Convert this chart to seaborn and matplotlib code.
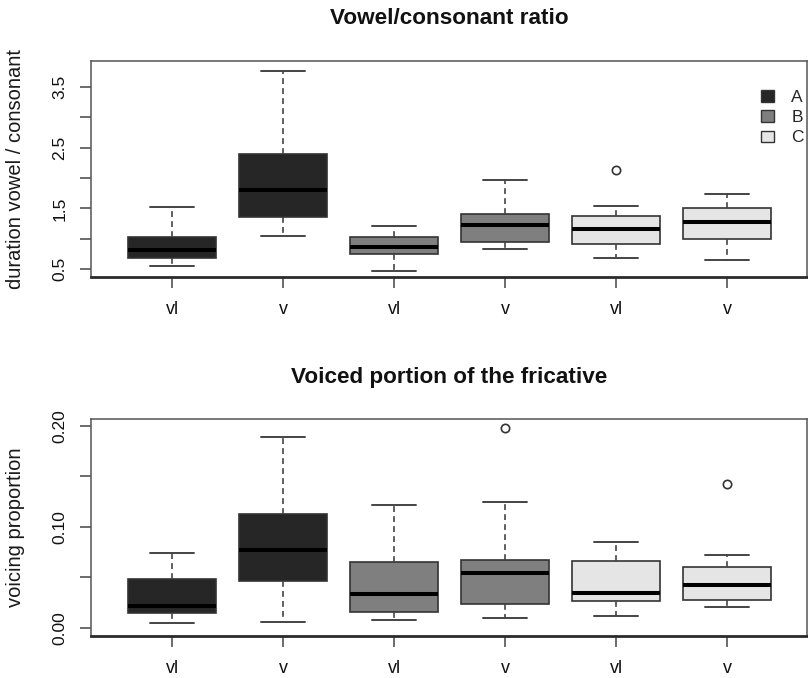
import numpy as np
import pandas as pd
import matplotlib
matplotlib.use("Agg")
import matplotlib.pyplot as plt
from matplotlib.patches import Patch
import seaborn as sns

# ---------------- data ----------------
groups = ["A", "A", "B", "B", "C", "C"]
tick_labels = ["vl", "v", "vl", "v", "vl", "v"]
group_colors = {"A": "#262626", "B": "#7f7f7f", "C": "#e5e5e5"}

# Vowel/consonant ratio: whisker low, Q1, median, Q3, whisker high, outliers
ratio_low = [0.55, 1.05, 0.47, 0.83, 0.69, 0.66]
ratio_q1 = [0.69, 1.36, 0.75, 0.95, 0.91, 0.99]
ratio_med = [0.82, 1.81, 0.87, 1.22, 1.17, 1.27]
ratio_q3 = [1.03, 2.39, 1.03, 1.41, 1.38, 1.50]
ratio_high = [1.53, 3.76, 1.21, 1.97, 1.54, 1.74]
ratio_out = [[], [], [], [], [2.13], []]

# Voiced portion of the fricative
voice_low = [0.005, 0.006, 0.008, 0.010, 0.012, 0.021]
voice_q1 = [0.015, 0.046, 0.016, 0.024, 0.026, 0.027]
voice_med = [0.022, 0.077, 0.033, 0.054, 0.034, 0.042]
voice_q3 = [0.048, 0.113, 0.065, 0.067, 0.066, 0.060]
voice_high = [0.074, 0.189, 0.122, 0.125, 0.085, 0.072]
voice_out = [[], [], [], [0.198], [], [0.142]]


def build_frame(low, q1, med, q3, high, outs):
    """Nine observations per box whose quartiles equal the read summary."""
    rows = []
    for i in range(len(low)):
        obs = [low[i], q1[i], q1[i], med[i], med[i], q3[i], q3[i], high[i]]
        obs += outs[i] if outs[i] else [high[i]]
        for v in obs:
            rows.append({"box": str(i), "group": groups[i], "value": v})
    return pd.DataFrame(rows)


df_ratio = build_frame(ratio_low, ratio_q1, ratio_med, ratio_q3, ratio_high, ratio_out)
df_voice = build_frame(voice_low, voice_q1, voice_med, voice_q3, voice_high, voice_out)

# ---------------- style ----------------
sns.set_theme(style="white")
plt.rcParams["font.family"] = ["Liberation Sans", "DejaVu Sans"]

W, H = 808, 678
fig = plt.figure(figsize=(W / 100, H / 100), dpi=100)


def px_axes(left, top, right, bottom):
    return fig.add_axes([left / W, 1 - bottom / H, (right - left) / W, (bottom - top) / H])


ax1 = px_axes(91, 60.7, 807, 277)
ax2 = px_axes(91, 419, 807, 636)

order = [str(i) for i in range(6)]
box_kw = dict(
    x="box", y="value", hue="group", order=order, palette=group_colors,
    dodge=False, width=0.8, saturation=1, linecolor="#333333", linewidth=1.2,
    whis=1.5, legend=False,
    whiskerprops=dict(linestyle=(0, (3.5, 2.5)), color="#444444", linewidth=1.2),
    capprops=dict(color="#444444", linewidth=1.4),
    medianprops=dict(color="black", linewidth=2.9),
    flierprops=dict(marker="o", markerfacecolor="none", markeredgecolor="#333333",
                    markersize=6, markeredgewidth=1.2),
)

sns.boxplot(data=df_ratio, ax=ax1, **box_kw)
sns.boxplot(data=df_voice, ax=ax2, **box_kw)

configs = [
    (ax1, (0.374, 3.927), [0.5, 1.0, 1.5, 2.0, 2.5, 3.0, 3.5],
     ["0.5", "", "1.5", "", "2.5", "", "3.5"], "duration vowel / consonant"),
    (ax2, (-0.0082, 0.2069), [0.0, 0.05, 0.10, 0.15, 0.20],
     ["0.00", "", "0.10", "", "0.20"], "voicing proportion"),
]

for ax, ylim, yt, ytl, ylab in configs:
    ax.set_xlim(-0.73, 5.72)
    ax.set_ylim(*ylim)
    ax.set_yticks(yt)
    ax.set_yticklabels(ytl, rotation=90, va="center")
    ax.set_xticks(range(6))
    ax.set_xticklabels(tick_labels)
    ax.set_xlabel("")
    ax.set_ylabel(ylab, fontsize=14.5, color="#1a1a1a")
    ax.yaxis.set_label_coords(-0.092, 0.5)
    ax.tick_params(axis="both", which="both", direction="out", length=8, width=1.1,
                   color="#444444", labelsize=12.5, labelcolor="#111111",
                   left=True, bottom=True)
    ax.tick_params(axis="y", pad=9)
    ax.tick_params(axis="x", pad=9, labelsize=13)
    for s in ["top", "right", "left"]:
        ax.spines[s].set_color("#555555")
        ax.spines[s].set_linewidth(1.1)
        ax.spines[s].set_visible(True)
    ax.spines["bottom"].set_color("#2a2a2a")
    ax.spines["bottom"].set_linewidth(2.0)
    ax.spines["bottom"].set_visible(True)
    ax.grid(False)

fig.text(449 / W, 1 - 19 / H, "Vowel/consonant ratio", ha="center", va="center",
         fontsize=16.2, fontweight="bold", color="#111111")
fig.text(449 / W, 1 - 377 / H, "Voiced portion of the fricative", ha="center", va="center",
         fontsize=16.2, fontweight="bold", color="#111111")

handles = [Patch(facecolor=group_colors[g], edgecolor="#333333", linewidth=1.0, label=g)
           for g in ["A", "B", "C"]]
fig.legend(handles=handles, loc="upper left", bbox_to_anchor=(761 / W, 1 - 90 / H),
           frameon=False, fontsize=12.5, handlelength=0.75, handleheight=0.65,
           handletextpad=1.0, labelspacing=0.3, borderpad=0, borderaxespad=0)

fig.savefig("out.png", dpi=100)
